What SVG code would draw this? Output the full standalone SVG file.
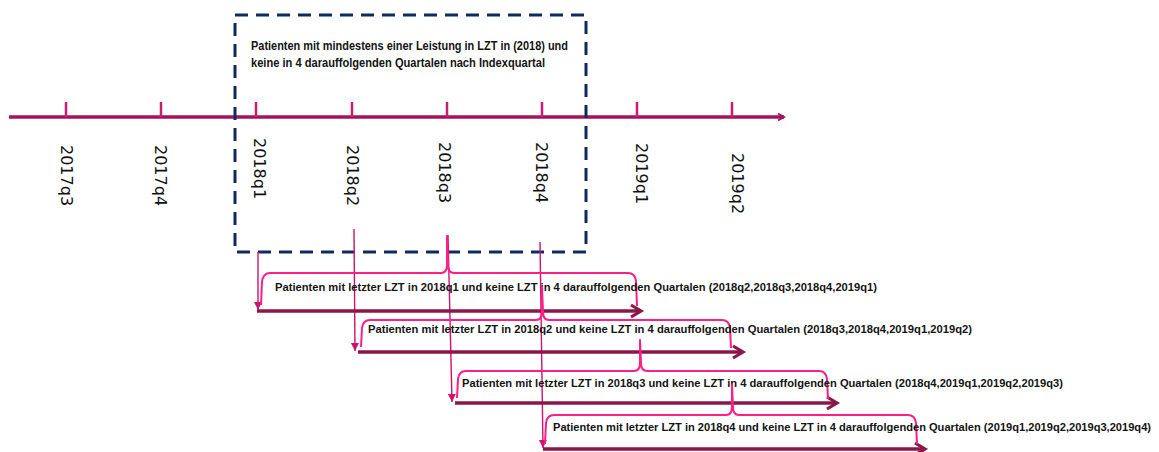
<svg xmlns="http://www.w3.org/2000/svg" width="1159" height="452" viewBox="0 0 1159 452">
  <defs>
    <style>
      .axis { stroke: #A5145A; stroke-width: 3.5; fill: none; }
      .tick { stroke: #CC1C6E; stroke-width: 2.5; fill: none; }
      .lbl { font-family: "DejaVu Sans", Verdana, sans-serif; font-size: 16px; fill: #111; }
      .box { stroke: #0E2A5E; stroke-width: 3; stroke-dasharray: 13 8; fill: none; }
      .btxt { font-family: "Liberation Sans", Arial, sans-serif; font-size: 11px; font-weight: bold; fill: #141414; }
      .btxt2 { font-family: "Liberation Sans", Arial, sans-serif; font-size: 12px; font-weight: bold; fill: #141414; }
      .drop { stroke: #D0136C; stroke-width: 1.4; fill: none; }
      .brace { stroke: #FF1F86; stroke-width: 2; fill: none; stroke-linejoin: round; }
      .span { stroke: #8B1748; stroke-width: 3.5; fill: none; }
    </style>
    <marker id="axhead" markerWidth="10" markerHeight="10" refX="7" refY="5" orient="auto" markerUnits="userSpaceOnUse">
      <path d="M1,1.5 L7,5 L1,8.5" fill="none" stroke="#A5145A" stroke-width="2"/>
    </marker>
    <marker id="drophead" markerWidth="10" markerHeight="10" refX="8" refY="5" orient="auto" markerUnits="userSpaceOnUse">
      <path d="M0,1 L8,5 L0,9 Z" fill="#D0136C"/>
    </marker>
    <marker id="spanhead" markerWidth="16" markerHeight="16" refX="12" refY="8" orient="auto" markerUnits="userSpaceOnUse">
      <path d="M2,2 L12,8 L2,14" fill="none" stroke="#8B1748" stroke-width="3.2" stroke-linejoin="miter"/>
    </marker>
  </defs>

  <!-- timeline -->
  <g id="timeline">
    <line class="axis" x1="9" y1="117" x2="784" y2="117" marker-end="url(#axhead)"/>
    <g class="ticks">
      <line class="tick" x1="66" y1="102" x2="66" y2="117"/>
      <line class="tick" x1="161" y1="102" x2="161" y2="117"/>
      <line class="tick" x1="256" y1="102" x2="256" y2="117"/>
      <line class="tick" x1="352" y1="102" x2="352" y2="117"/>
      <line class="tick" x1="447" y1="102" x2="447" y2="117"/>
      <line class="tick" x1="542" y1="102" x2="542" y2="117"/>
      <line class="tick" x1="637" y1="102" x2="637" y2="117"/>
      <line class="tick" x1="732" y1="102" x2="732" y2="117"/>
    </g>
    <text class="lbl" transform="translate(61,145) rotate(90)">2017q3</text>
    <text class="lbl" transform="translate(155,145) rotate(90)">2017q4</text>
    <text class="lbl" transform="translate(254,138) rotate(90)">2018q1</text>
    <text class="lbl" transform="translate(347,145) rotate(90)">2018q2</text>
    <text class="lbl" transform="translate(439,142) rotate(90)">2018q3</text>
    <text class="lbl" transform="translate(536,142) rotate(90)">2018q4</text>
    <text class="lbl" transform="translate(636,143) rotate(90)">2019q1</text>
    <text class="lbl" transform="translate(732,153) rotate(90)">2019q2</text>
  </g>

  <!-- dashed index box -->
  <g id="indexbox">
    <rect class="box" x="235" y="15" width="351" height="237"/>
    <text class="btxt2" x="251" y="50" textLength="317" lengthAdjust="spacingAndGlyphs">Patienten mit mindestens einer Leistung in LZT in (2018) und</text>
    <text class="btxt2" x="251" y="67" textLength="294" lengthAdjust="spacingAndGlyphs">keine in 4 darauffolgenden Quartalen nach Indexquartal</text>
  </g>

  <!-- connectors -->
  <g id="connectors">
    <line class="drop" x1="258" y1="252" x2="258" y2="310" marker-end="url(#drophead)"/>
    <line class="drop" x1="354" y1="229" x2="355" y2="351" marker-end="url(#drophead)"/>
    <line class="drop" x1="448" y1="235" x2="452" y2="402" marker-end="url(#drophead)"/>
    <line class="drop" x1="540" y1="242" x2="543" y2="448" marker-end="url(#drophead)"/>

    <line class="span" x1="257" y1="311" x2="641" y2="311" marker-end="url(#spanhead)"/>
    <line class="span" x1="358" y1="352" x2="743" y2="352" marker-end="url(#spanhead)"/>
    <line class="span" x1="455" y1="403" x2="837" y2="403" marker-end="url(#spanhead)"/>
    <line class="span" x1="543" y1="449" x2="925" y2="449" marker-end="url(#spanhead)"/>
  </g>

  <!-- cohort 2018q1 -->
  <g id="cohort1">
    <path class="brace" d="M261,305 L262,282 Q263,273 270,273 L441,273 Q447,273 447,265 L447,236 L448,265 Q448,273 454,273 L628,273 Q635,273 636,281 L637,306"/>
    <text class="btxt" x="275" y="291" textLength="602" lengthAdjust="spacingAndGlyphs">Patienten mit letzter LZT in 2018q1 und keine LZT in 4 darauffolgenden Quartalen (2018q2,2018q3,2018q4,2019q1)</text>
  </g>

  <!-- cohort 2018q2 -->
  <g id="cohort2">
    <path class="brace" d="M361,347 L362,328 Q363,320 370,320 L536,320 Q542,320 542,312 L542,287 L543,312 Q543,320 549,320 L722,320 Q729,320 730,328 L731,348"/>
    <text class="btxt" x="368" y="333" textLength="604" lengthAdjust="spacingAndGlyphs">Patienten mit letzter LZT in 2018q2 und keine LZT in 4 darauffolgenden Quartalen (2018q3,2018q4,2019q1,2019q2)</text>
  </g>

  <!-- cohort 2018q3 -->
  <g id="cohort3">
    <path class="brace" d="M457,398 L458,379 Q459,371 466,371 L634,371 Q640,371 640,363 L640,340 L641,363 Q641,371 647,371 L819,371 Q826,371 827,379 L828,399"/>
    <text class="btxt" x="462" y="387" textLength="601" lengthAdjust="spacingAndGlyphs">Patienten mit letzter LZT in 2018q3 und keine LZT in 4 darauffolgenden Quartalen (2018q4,2019q1,2019q2,2019q3)</text>
  </g>

  <!-- cohort 2018q4 -->
  <g id="cohort4">
    <path class="brace" d="M545,444 L546,423 Q547,415 554,415 L726,415 Q732,415 732,407 L732,385 L733,407 Q733,415 739,415 L908,415 Q915,415 916,423 L917,444"/>
    <text class="btxt" x="553" y="431" textLength="598" lengthAdjust="spacingAndGlyphs">Patienten mit letzter LZT in 2018q4 und keine LZT in 4 darauffolgenden Quartalen (2019q1,2019q2,2019q3,2019q4)</text>
  </g>
</svg>
